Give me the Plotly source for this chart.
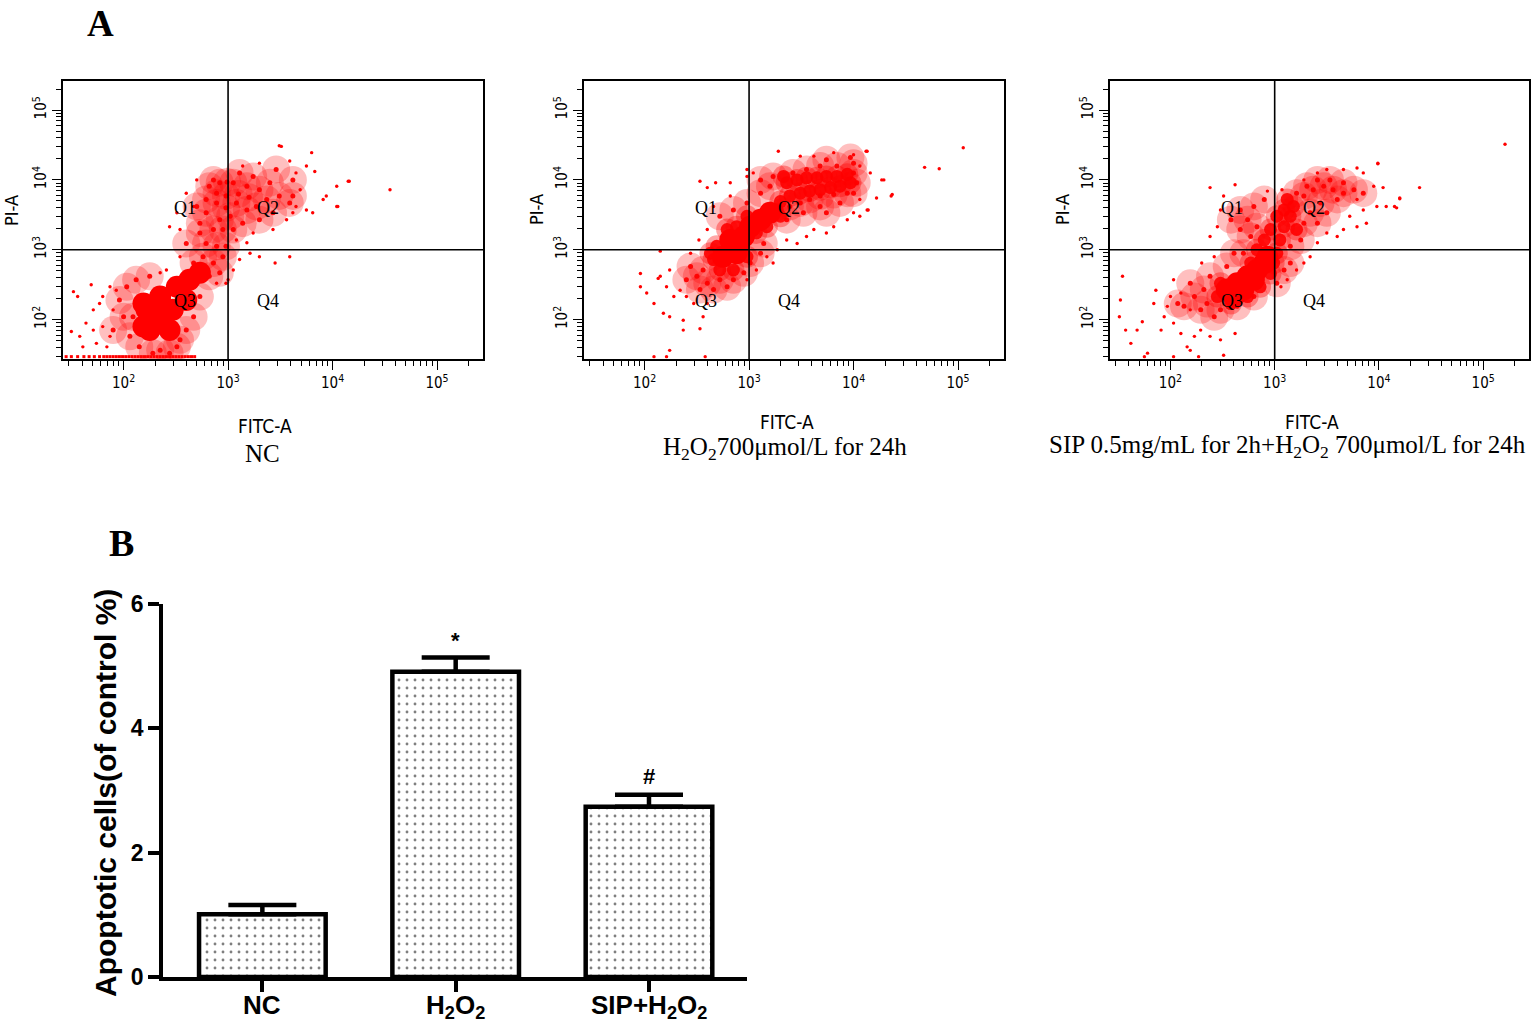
import plotly.graph_objects as go

W, H = 1535, 1022

# ---------------- Panel A: flow-cytometry dot plots ----------------
# values are (log10 FITC-A, log10 PI-A)
# dense core of each population
p1_core = [(2.19, 1.90), (2.22, 2.14), (2.35, 2.04), (2.35, 2.33), (2.44, 1.85), (2.25, 1.85),
           (2.47, 2.14), (2.51, 2.47), (2.63, 2.57), (2.73, 2.67), (2.60, 2.28), (2.19, 2.23)]
# thick speckle
p1_mid = [(2.03, 2.47), (2.00, 2.04), (2.06, 1.76), (2.15, 1.61), (2.35, 1.56), (2.54, 1.71), (2.67, 2.04),
          (2.73, 2.33), (1.96, 2.28), (2.12, 2.57), (2.25, 2.62), (1.90, 1.85), (2.51, 1.61), (2.60, 1.85),
          (2.28, 1.52), (2.44, 1.52), (2.09, 2.04),
          (2.76, 2.90), (2.86, 2.81), (2.89, 3.05), (2.79, 3.09), (2.67, 2.81), (2.92, 2.67), (2.95, 3.29),
          (2.86, 3.29), (2.73, 3.24), (2.60, 3.09), (2.95, 2.90), (2.82, 2.62), (2.98, 3.05),
          (2.79, 3.53), (2.89, 3.67), (2.98, 3.77), (3.08, 3.67), (3.18, 3.57), (3.27, 3.62), (3.37, 3.72),
          (3.30, 3.86), (3.18, 3.91), (3.05, 3.96), (2.92, 3.96), (2.82, 3.91), (2.79, 3.72), (3.02, 3.48),
          (3.14, 3.38), (3.30, 3.43), (3.43, 3.53), (3.49, 3.77), (3.40, 3.96), (3.24, 4.05), (3.11, 4.10),
          (2.89, 3.81), (2.73, 3.38), (2.92, 3.43), (3.05, 3.29), (3.46, 4.15), (3.62, 4.00), (3.59, 3.67),
          (2.70, 3.62), (3.62, 3.77), (2.99, 3.97), (2.86, 4.00), (3.10, 3.80), (3.20, 3.75), (2.98, 3.60)]
# single events
p1_dot = [(1.52, 2.40), (1.56, 2.33), (1.69, 2.50), (1.50, 1.83), (1.58, 1.76), (1.71, 2.14), (1.77, 2.23),
          (1.64, 1.95), (1.80, 1.90), (1.74, 1.66), (1.87, 2.47), (1.84, 1.61), (1.61, 1.61), (1.80, 2.33),
          (1.90, 2.14), (1.71, 1.85), (1.93, 2.42), (1.87, 1.76),
          (2.60, 3.81), (2.51, 3.53), (2.44, 3.33), (2.54, 3.29), (2.67, 3.62), (2.70, 4.00), (3.49, 4.49),
          (3.80, 4.39), (3.59, 4.27), (3.30, 4.24), (3.14, 4.20), (3.65, 4.10), (3.75, 4.20), (3.83, 4.12),
          (3.69, 3.86), (3.56, 3.43), (3.62, 3.53), (3.43, 3.29), (3.24, 3.24), (3.18, 3.10), (3.08, 3.14),
          (4.15, 3.98), (4.04, 3.91), (3.94, 3.77), (4.04, 3.62), (3.91, 3.72), (3.81, 3.53), (3.75, 3.57),
          (3.65, 3.62), (3.59, 2.90), (3.45, 2.81), (3.30, 2.90), (3.21, 2.95), (3.11, 2.86), (3.05, 2.71),
          (3.00, 2.57), (2.98, 2.52), (2.89, 2.52), (2.54, 2.90), (2.41, 2.71), (2.35, 2.67),
          (4.55, 3.86), (4.16, 3.98), (4.05, 3.62), (3.51, 4.48)]
# events piled on the lower detector limit (log10 FITC-A), at log10 PI-A = 1.47
p1_floor = [1.45, 1.50, 1.56, 1.62, 1.67, 1.72, 1.77, 1.81, 1.84, 1.87, 1.90, 1.93, 1.96, 1.99, 2.02,
            2.05, 2.08, 2.11, 2.14, 2.17, 2.20, 2.23, 2.26, 2.29, 2.32, 2.35, 2.38, 2.41, 2.44, 2.47,
            2.50, 2.53, 2.56, 2.59, 2.62, 2.65, 2.68]
floor_pi = 1.47

p2_core = [(2.75, 2.90), (2.88, 2.95), (2.82, 3.14), (2.95, 3.19), (3.01, 3.33), (3.11, 3.43),
           (3.20, 3.53), (2.90, 3.07)]
p2_dense = [(3.36, 3.96), (3.46, 4.00), (3.55, 4.03), (3.65, 4.03), (3.74, 4.05), (3.84, 4.05), (3.94, 4.08),
            (3.97, 3.96), (3.87, 3.91), (3.78, 3.89), (3.68, 3.86), (3.58, 3.84), (3.49, 3.81), (3.39, 3.77),
            (3.30, 3.69), (3.27, 3.57), (3.33, 4.05),
            (2.69, 3.05), (2.66, 2.86), (2.72, 2.71), (2.85, 2.71), (2.98, 2.90), (3.07, 3.24), (3.17, 3.33),
            (3.30, 3.48), (2.79, 3.29), (2.88, 3.33), (2.98, 3.48), (2.63, 2.95)]
p2_mid = [(2.56, 2.71), (2.50, 2.62), (2.60, 2.52), (2.72, 2.57), (2.85, 2.57), (2.95, 2.67), (2.44, 2.76),
          (2.66, 2.43), (2.79, 2.47), (2.53, 2.43), (2.40, 2.57), (3.01, 2.81), (3.11, 2.95), (3.14, 3.09),
          (2.72, 3.48), (2.85, 3.57), (2.98, 3.67), (3.11, 3.81), (3.20, 3.91), (3.23, 4.05), (3.11, 4.00),
          (3.39, 3.62), (3.49, 3.67), (3.58, 3.72), (3.68, 3.77), (3.81, 3.79), (3.94, 3.81), (4.00, 4.10),
          (4.00, 4.24), (3.84, 4.20), (3.68, 4.20), (3.55, 4.15), (3.42, 4.10), (3.74, 4.29), (3.97, 4.32),
          (3.36, 3.43), (3.52, 3.53), (3.68, 3.62), (3.74, 3.53), (3.87, 3.67), (4.03, 3.96), (4.00, 3.81)]
p2_dot = [(1.96, 2.66), (1.96, 2.47), (2.02, 2.38), (2.09, 2.23), (2.15, 2.62), (2.24, 2.71), (2.21, 2.47),
          (2.28, 2.33), (2.18, 2.09), (2.24, 2.04), (2.37, 1.99), (2.37, 1.85), (2.53, 1.87), (2.56, 2.04),
          (2.60, 2.23), (2.47, 2.23), (2.34, 2.42), (2.40, 2.33), (2.24, 1.56), (2.09, 1.47), (2.21, 1.47),
          (2.58, 1.47), (2.13, 2.59), (2.15, 2.98), (2.44, 2.95), (2.53, 3.98), (2.60, 3.89), (2.68, 3.96),
          (2.82, 3.96), (2.98, 4.05), (2.98, 4.15), (3.04, 4.10), (2.82, 3.77), (2.66, 3.62), (2.52, 3.14),
          (2.60, 3.29), (2.98, 2.57), (3.07, 2.71), (3.23, 2.81), (3.17, 2.90), (3.27, 3.00), (3.36, 3.14),
          (3.46, 3.09), (3.55, 3.19), (3.62, 3.29), (3.74, 3.24), (3.81, 3.33), (3.94, 3.43), (4.00, 3.53),
          (4.13, 3.57), (4.06, 3.72), (4.22, 3.74), (4.29, 4.00), (4.37, 3.79), (3.28, 4.41), (3.49, 4.34),
          (3.62, 4.34), (3.81, 4.39), (4.00, 4.36), (4.13, 4.41), (4.06, 4.20), (4.16, 4.10),
          (4.68, 4.18), (4.82, 4.16), (5.05, 4.46), (4.27, 4.00), (4.36, 3.77), (4.12, 4.41), (4.14, 3.57),
          (4.06, 3.48)]

p3_core = [(2.54, 2.43), (2.64, 2.52), (2.74, 2.62), (2.83, 2.71), (2.90, 2.81), (2.61, 2.33), (2.70, 2.43),
           (2.80, 2.57), (2.93, 2.90)]
p3_dense = [(3.02, 2.95), (3.05, 3.14), (3.09, 3.33), (3.15, 3.48), (3.09, 3.57), (3.18, 3.62), (3.02, 3.48),
            (2.96, 3.29), (2.90, 3.14), (2.48, 2.52), (2.45, 2.33), (2.58, 2.23), (2.74, 2.33), (2.86, 2.47),
            (2.96, 2.66), (2.99, 2.81), (2.77, 2.81), (2.83, 3.00), (3.21, 3.29), (3.12, 3.72)]
p3_mid = [(2.80, 3.62), (2.90, 3.72), (2.74, 3.43), (2.83, 3.33), (2.77, 3.19), (2.67, 3.29), (2.58, 3.43),
          (2.67, 3.57), (3.28, 3.77), (3.37, 3.86), (3.47, 3.91), (3.56, 3.86), (3.66, 3.81), (3.76, 3.86),
          (3.85, 3.81), (3.60, 3.72), (3.44, 3.67), (3.34, 3.53), (3.28, 3.38), (3.41, 4.00), (3.53, 4.00),
          (3.66, 3.96), (3.31, 3.91), (3.21, 3.81), (3.41, 3.38), (3.50, 3.53), (3.25, 3.14), (3.15, 3.05),
          (3.15, 2.81), (3.09, 2.71), (3.02, 2.52), (2.61, 2.95), (2.70, 2.95),
          (2.38, 2.62), (2.32, 2.43), (2.35, 2.23), (2.48, 2.14), (2.64, 2.19), (2.80, 2.33), (2.23, 2.33),
          (2.29, 2.14), (2.42, 2.04), (2.54, 2.76), (2.19, 2.52), (2.13, 2.19), (2.07, 2.23)]
p3_dot = [(1.54, 2.62), (1.52, 2.28), (1.51, 2.04), (1.57, 1.85), (1.62, 1.66), (1.68, 1.85), (1.73, 1.97),
          (1.84, 2.23), (1.86, 2.42), (1.97, 2.19), (1.94, 2.04), (1.91, 1.85), (2.03, 1.95), (2.10, 1.80),
          (2.16, 1.61), (2.23, 1.76), (2.29, 1.85), (2.38, 1.76), (2.48, 1.71), (2.19, 1.56), (1.75, 1.47),
          (1.78, 1.52), (2.03, 1.47), (2.27, 1.47), (2.51, 1.49), (2.62, 1.80), (2.03, 2.57), (2.19, 2.14),
          (2.00, 2.33), (2.10, 2.38), (2.30, 2.81), (2.42, 2.90),
          (2.38, 3.89), (2.62, 3.93), (2.48, 3.57), (2.38, 3.19), (2.45, 3.33), (2.51, 3.77), (2.93, 3.84),
          (3.07, 3.86), (3.28, 4.00), (3.41, 4.10), (3.50, 4.15), (3.66, 4.15), (3.79, 4.17), (3.85, 4.10),
          (3.99, 4.24), (3.95, 3.91), (4.04, 3.89), (3.98, 3.62), (4.07, 3.62), (4.17, 3.60), (4.20, 3.74),
          (3.88, 3.38), (3.72, 3.48), (3.66, 3.29), (3.60, 3.19), (3.50, 3.24), (3.41, 3.10), (3.34, 2.90),
          (3.28, 2.81), (3.21, 2.71), (3.12, 2.57), (3.06, 2.47), (3.79, 3.33), (3.85, 3.57), (3.79, 3.72),
          (5.21, 4.51), (4.39, 3.89), (4.20, 3.73), (4.15, 3.62), (3.99, 4.23)]

gate_fitc = 1000.0
gate_pi = 1000.0
quad_names = ["Q1", "Q2", "Q3", "Q4"]
quad_pos = [(2.59, 3.60), (3.38, 3.60), (2.59, 2.27), (3.38, 2.27)]   # log10 positions
panel_captions = ["NC",
                  "H<sub>2</sub>O<sub>2</sub>700μmol/L for 24h",
                  "SIP 0.5mg/mL for 2h+H<sub>2</sub>O<sub>2</sub> 700μmol/L for 24h"]
decade_vals = [1e2, 1e3, 1e4, 1e5]
decade_text = ["10<sup>2</sup>", "10<sup>3</sup>", "10<sup>4</sup>", "10<sup>5</sup>"]
minor_vals = [k * 10 ** e for e in range(1, 6) for k in range(2, 10)]

# ---------------- Panel B: bar chart ----------------
groups = ["NC", "H2O2", "SIP+H2O2"]
group_text = ["<b>NC</b>", "<b>H<sub>2</sub>O<sub>2</sub></b>", "<b>SIP+H<sub>2</sub>O<sub>2</sub></b>"]
apoptotic = [1.01, 4.91, 2.74]
apoptotic_sem = [0.15, 0.23, 0.19]
marks = ["", "*", "#"]
mark_y = [None, 5.42, 3.22]

RED = "#ff0000"
NARROW = "Liberation Sans Narrow, Arial Narrow, DejaVu Sans Condensed, Arial, sans-serif"
SERIF = "Liberation Serif, Times New Roman, serif"
SANS = "Liberation Sans, Arial, sans-serif"

fig = go.Figure()

px_x = lambda p: p / W
px_y = lambda p: 1 - p / H

panel_x = [(63, 483), (584, 1004), (1110, 1529)]
panel_y = (81, 359)
xr = [1.42, 5.44]
yr = [1.436, 5.416]

panels = [
    dict(core=p1_core, dense=[], mid=p1_mid, dot=p1_dot, floor=p1_floor),
    dict(core=p2_core, dense=p2_dense, mid=p2_mid, dot=p2_dot, floor=[]),
    dict(core=p3_core, dense=p3_dense, mid=p3_mid, dot=p3_dot, floor=[]),
]


def lin(v):
    return 10 ** v


def note(x, y, text, size, family, angle=0, xref="paper", yref="paper", yanchor="middle"):
    fig.add_annotation(x=x, y=y, xref=xref, yref=yref, text=text, showarrow=False,
                       xanchor="center", yanchor=yanchor, textangle=angle,
                       font=dict(family=family, size=size, color="black"))


for i, pdata in enumerate(panels):
    n = i + 1
    xa = "x" if n == 1 else f"x{n}"
    ya = "y" if n == 1 else f"y{n}"
    tiers = [("mid", 28, 0.25), ("dense", 22, 0.35), ("mid", 5, 0.95), ("dot", 3.4, 1.0),
             ("dense", 13, 0.9), ("core", 22, 1.0)]
    for key, size, op in tiers:
        pts = pdata[key]
        if not pts:
            continue
        fig.add_trace(go.Scatter(
            x=[lin(a) for a, b in pts], y=[lin(b) for a, b in pts],
            mode="markers", xaxis=xa, yaxis=ya, showlegend=False, hoverinfo="skip",
            marker=dict(color=RED, size=size, opacity=op, line=dict(width=0))))
    if pdata["floor"]:
        fig.add_trace(go.Scatter(
            x=[lin(a) for a in pdata["floor"]], y=[lin(floor_pi)] * len(pdata["floor"]),
            mode="markers", xaxis=xa, yaxis=ya, showlegend=False, hoverinfo="skip",
            marker=dict(color=RED, size=3, symbol="square", line=dict(width=0))))
    # quadrant gates
    fig.add_trace(go.Scatter(x=[gate_fitc, gate_fitc], y=[lin(yr[0] - 1), lin(yr[1] + 1)],
                             mode="lines", xaxis=xa, yaxis=ya, showlegend=False, hoverinfo="skip",
                             line=dict(color="black", width=1.6)))
    fig.add_trace(go.Scatter(x=[lin(xr[0] - 1), lin(xr[1] + 1)], y=[gate_pi, gate_pi],
                             mode="lines", xaxis=xa, yaxis=ya, showlegend=False, hoverinfo="skip",
                             line=dict(color="black", width=1.6)))

    x0, x1 = panel_x[i]
    axis_common = dict(type="log", showline=True, linecolor="black", linewidth=1.6, mirror=True,
                       ticks="outside", ticklen=9, tickwidth=1.4, tickcolor="black", automargin=False,
                       tickvals=decade_vals, ticktext=decade_text, showgrid=False, zeroline=False,
                       tickfont=dict(family=NARROW, size=15, color="black"),
                       minor=dict(tickvals=minor_vals, ticks="outside", ticklen=5, tickwidth=1.2,
                                  tickcolor="black", showgrid=False))
    fig.update_layout(**{
        ("xaxis" if n == 1 else f"xaxis{n}"): dict(axis_common, domain=[px_x(x0), px_x(x1)],
                                                     range=xr, anchor=ya),
        ("yaxis" if n == 1 else f"yaxis{n}"): dict(axis_common, domain=[px_y(panel_y[1]), px_y(panel_y[0])],
                                                     range=yr, anchor=xa, tickangle=-90),
    })
    for name, (qx, qy) in zip(quad_names, quad_pos):
        note(qx, qy, name, 18, SERIF, xref=xa, yref=ya)

# axis titles and captions for panel A
fitc_pos = [(265, 426), (787, 422), (1312, 422)]
pia_pos = [(11, 211), (537, 210), (1063, 210)]
cap_pos = [(262, 453), (785, 449), (1287, 446)]
for i in range(3):
    note(px_x(fitc_pos[i][0]), px_y(fitc_pos[i][1]), "FITC-A", 19, NARROW)
    note(px_x(pia_pos[i][0]), px_y(pia_pos[i][1]), "PI-A", 18, NARROW, angle=-90)
    note(px_x(cap_pos[i][0]), px_y(cap_pos[i][1]), panel_captions[i], 25, SERIF)

note(px_x(100), px_y(1), "<b>A</b>", 37, SERIF, yanchor="top")
note(px_x(121), px_y(543), "<b>B</b>", 38, SERIF)

# ---------------- bar chart ----------------
fig.add_trace(go.Bar(
    x=groups, y=apoptotic, xaxis="x4", yaxis="y4", width=0.655, showlegend=False, hoverinfo="skip",
    marker=dict(color="white", line=dict(color="black", width=4.5),
                pattern=dict(shape=".", fgcolor="black", bgcolor="white", size=8, solidity=0.1)),
    error_y=dict(type="data", symmetric=False, array=apoptotic_sem, arrayminus=[0, 0, 0],
                 thickness=4.5, width=34, color="black")))

for g, m, my in zip(groups, marks, mark_y):
    if m:
        note(g, my, f"<b>{m}</b>", 22, SANS, xref="x4", yref="y4")

# category labels placed just under the tick marks
for g, t in zip(groups, group_text):
    fig.add_annotation(x=g, y=px_y(988), xref="x4", yref="paper", text=t, showarrow=False,
                       xanchor="center", yanchor="top",
                       font=dict(family=SANS, size=26, color="black"))

fig.update_layout(
    xaxis4=dict(domain=[px_x(163), px_x(747)], anchor="y4", range=[-0.514, 2.507], automargin=False,
                showline=True, linecolor="black", linewidth=3.5, ticks="outside", ticklen=11,
                tickwidth=3.5, tickcolor="black", tickvals=groups, showticklabels=False,
                showgrid=False, zeroline=False),
    yaxis4=dict(domain=[px_y(977), px_y(604)], anchor="x4", range=[0, 6], automargin=False,
                showline=True, linecolor="black", linewidth=3.5, ticks="outside", ticklen=11,
                tickwidth=3.5, tickcolor="black", tickvals=[0, 2, 4, 6],
                ticktext=["<b>0</b>", "<b>2</b>", "<b>4</b>", "<b>6</b>"],
                tickfont=dict(family=SANS, size=23, color="black"), showgrid=False, zeroline=False),
)
note(px_x(105), px_y(793), "<b>Apoptotic cells(of control %)</b>", 30, SANS, angle=-90)

fig.update_layout(width=W, height=H, margin=dict(l=0, r=0, t=0, b=0, autoexpand=False),
                  paper_bgcolor="white", plot_bgcolor="white")

fig.write_html("out.html", config={"displayModeBar": False},
               post_script="document.body.style.margin='0';")
